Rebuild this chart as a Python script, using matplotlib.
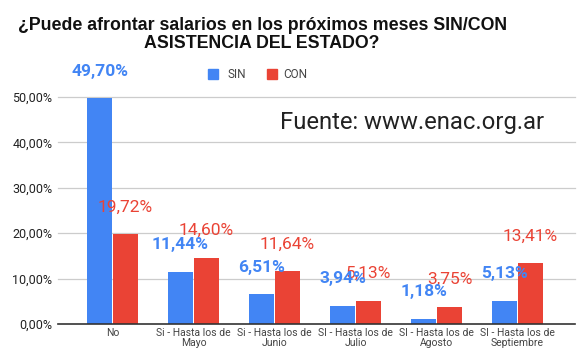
import numpy as np
import matplotlib.pyplot as plt

categorias = ["No", "Si - Hasta los de\nMayo", "Si - Hasta los de\nJunio",
              "SI - Hasta los de\nJulio", "SI - Hasta los de\nAgosto",
              "SI - Hasta los de\nSeptiembre"]
sin_estado = [49.70, 11.44, 6.51, 3.94, 1.18, 5.13]
con_estado = [19.72, 14.60, 11.64, 5.13, 3.75, 13.41]
ticks_y = [0, 10, 20, 30, 40, 50]

AZUL = "#4285F4"
ROJO = "#EA4335"


def fmt(v):
    return f"{v:.2f}".replace(".", ",") + "%"


def main():
    plt.rcParams["font.family"] = ["Roboto", "DejaVu Sans"]
    fig = plt.figure(figsize=(5.86, 3.54), dpi=100)
    ax = fig.add_axes([58 / 586, 1 - 324 / 354, 517 / 586, 227 / 354])

    x = np.arange(len(categorias))
    ancho = 0.31
    ax.bar(x - 0.16, sin_estado, ancho, color=AZUL, zorder=3)
    ax.bar(x + 0.16, con_estado, ancho, color=ROJO, zorder=3)

    # Etiquetas de datos
    for xi, v in zip(x, sin_estado):
        ax.text(xi - 0.16, v + 6, fmt(v), color=AZUL, fontsize=12.5,
                fontweight="bold", ha="center", va="center", zorder=5,
                clip_on=False)
    for xi, v in zip(x, con_estado):
        ax.text(xi + 0.16, v + 6, fmt(v), color=ROJO, fontsize=12.5,
                ha="center", va="center", zorder=4, clip_on=False)

    ax.set_xlim(-0.673, 5.71)
    ax.set_ylim(0, 50)
    ax.set_yticks(ticks_y)
    ax.set_yticklabels([f"{t},00%" for t in ticks_y], fontsize=9, color="#222222")
    ax.set_xticks(x)
    ax.set_xticklabels(categorias, fontsize=7.5, color="#444444", linespacing=1.0)
    ax.tick_params(length=0, pad=4)
    ax.tick_params(axis="x", pad=3)

    for t in ticks_y[1:]:
        ax.axhline(t, color="#cccccc", lw=0.9, zorder=1, clip_on=False)
    for s in ["top", "right", "left"]:
        ax.spines[s].set_visible(False)
    ax.spines["bottom"].set_color("#333333")
    ax.spines["bottom"].set_linewidth(1.2)
    ax.spines["bottom"].set_zorder(4)

    # Titulo
    fig.text(263 / 586, 1 - 25 / 354, "¿Puede afrontar salarios en los próximos meses SIN/CON",
             family="Liberation Sans", fontweight="bold", fontsize=12.8,
             ha="center", va="center", color="#111111")
    fig.text(262 / 586, 1 - 44 / 354, "ASISTENCIA DEL ESTADO?",
             family="Liberation Sans", fontweight="bold", fontsize=12.8,
             ha="center", va="center", color="#111111")

    # Leyenda
    fig.patches.append(plt.Rectangle((208 / 586, 1 - 79 / 354), 10 / 586, 10 / 354,
                                     transform=fig.transFigure, color=AZUL))
    fig.text(227 / 586, 1 - 74 / 354, "SIN", fontsize=8.5, color="#444444", va="center")
    fig.patches.append(plt.Rectangle((267 / 586, 1 - 79 / 354), 10 / 586, 10 / 354,
                                     transform=fig.transFigure, color=ROJO))
    fig.text(283 / 586, 1 - 74 / 354, "CON", fontsize=8.5, color="#444444", va="center")

    # Fuente
    fig.text(280 / 586, 1 - 122 / 354, "Fuente: www.enac.org.ar", fontsize=17.2,
             color="#222222", va="center", ha="left")

    fig.savefig("out.png", dpi=100)


if __name__ == "__main__":
    main()
